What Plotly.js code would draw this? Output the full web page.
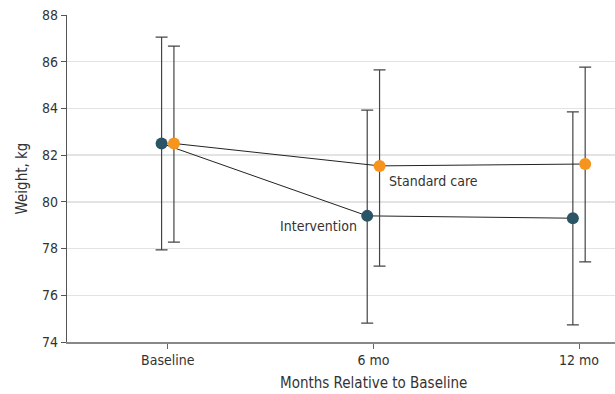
<!DOCTYPE html>
<html><head><meta charset="utf-8">
<script src="https://cdn.plot.ly/plotly-3.0.1.min.js"></script>
<style>html,body{margin:0;padding:0;background:#fff}#c{width:615px;height:394px}</style>
</head><body><div id="c"></div>
<script>
const categories = ["Baseline", "6 mo", "12 mo"];
const interventionMean = [82.5, 79.4, 79.3];
const interventionUpper = [87.05, 83.93, 83.85];
const interventionLower = [77.94, 74.81, 74.73];
const standardMean = [82.5, 81.54, 81.62];
const standardUpper = [86.67, 85.65, 85.77];
const standardLower = [78.28, 77.25, 77.43];
const offset = 0.03;

const font = "'DejaVu Sans Condensed','Liberation Sans Narrow',sans-serif";
const idx = categories.map((_, i) => i);

function trace(mean, up, lo, sign, color) {
  return {
    x: idx.map(i => i + sign * offset), y: mean, type: 'scatter', mode: 'lines+markers',
    line: {color: '#222', width: 1},
    marker: {color: color, size: 12},
    error_y: {type: 'data', symmetric: false,
      array: mean.map((m, i) => up[i] - m), arrayminus: mean.map((m, i) => m - lo[i]),
      color: '#444', thickness: 1.2, width: 6},
    showlegend: false, hoverinfo: 'skip'
  };
}

const data = [
  trace(interventionMean, interventionUpper, interventionLower, -1, '#2b5566'),
  trace(standardMean, standardUpper, standardLower, 1, '#f7941d')
];

const layout = {
  width: 615, height: 394,
  margin: {l: 67, r: 0, t: 15, b: 52},
  paper_bgcolor: '#fff', plot_bgcolor: '#fff',
  font: {family: font, size: 14, color: '#333'},
  xaxis: {range: [-0.49, 2.175], tickvals: idx, ticktext: categories,
    showgrid: false, zeroline: false, showline: true, linecolor: '#888', linewidth: 1.5,
    ticks: 'outside', ticklen: 5, tickcolor: '#666'},
  yaxis: {range: [74, 88], dtick: 2, tick0: 74,
    showgrid: true, gridcolor: '#e3e3e3', gridwidth: 1.5, zeroline: false,
    showline: true, linecolor: '#555', linewidth: 1.2,
    ticks: 'outside', ticklen: 5, tickcolor: '#555',
    title: {text: 'Weight, kg', font: {size: 15}, standoff: 10}},
  annotations: [
    {x: 1, y: 0, xref: 'x', yref: 'paper', yshift: -41, text: 'Months Relative to Baseline', showarrow: false, xanchor: 'center', yanchor: 'middle', font: {size: 15, color: '#333'}},
    {x: 1.066, y: 80.9, xref: 'x', yref: 'y', text: 'Standard care', showarrow: false, xanchor: 'left', yanchor: 'middle', font: {size: 14, color: '#333'}},
    {x: 0.93, y: 78.97, xref: 'x', yref: 'y', text: 'Intervention', showarrow: false, xanchor: 'right', yanchor: 'middle', font: {size: 14, color: '#333'}}
  ]
};

Plotly.newPlot('c', data, layout, {displayModeBar: false, staticPlot: true});
</script></body></html>
